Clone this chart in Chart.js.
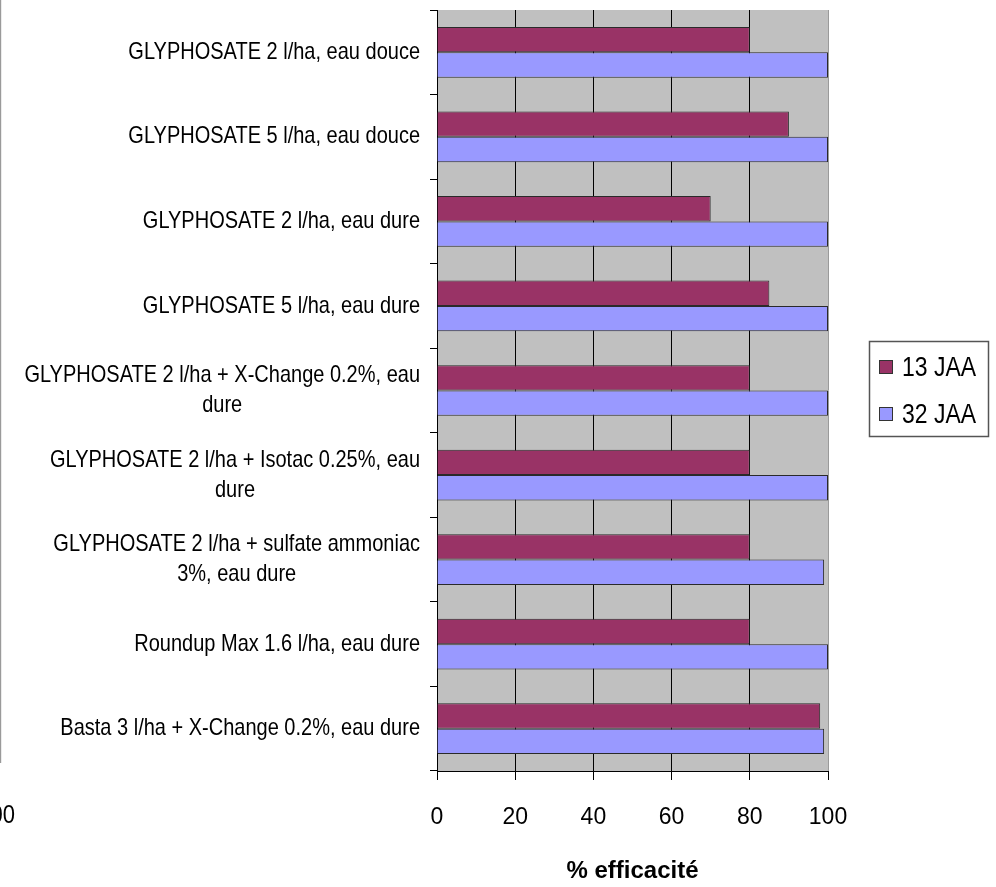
<!DOCTYPE html>
<html>
<head>
<meta charset="utf-8">
<script src="https://cdn.jsdelivr.net/npm/chart.js@4"></script>
<style>
  html, body { margin: 0; padding: 0; background: #fff; }
  #wrap { width: 996px; height: 887px; position: relative; }
</style>
</head>
<body>
<div id="wrap"><canvas id="effChart"></canvas></div>
<script>
// treatments, top to bottom (arrays = wrapped lines)
const categories = [
  ['GLYPHOSATE 2 l/ha, eau douce'],
  ['GLYPHOSATE 5 l/ha, eau douce'],
  ['GLYPHOSATE 2 l/ha, eau dure'],
  ['GLYPHOSATE 5 l/ha, eau dure'],
  ['GLYPHOSATE 2 l/ha + X-Change 0.2%, eau', 'dure'],
  ['GLYPHOSATE 2 l/ha + Isotac 0.25%, eau', 'dure'],
  ['GLYPHOSATE 2 l/ha + sulfate ammoniac', '3%, eau dure'],
  ['Roundup Max 1.6 l/ha, eau dure'],
  ['Basta 3 l/ha + X-Change 0.2%, eau dure']
];
const jaa13 = [80, 90, 70, 85, 80, 80, 80, 80, 98];
const jaa32 = [100, 100, 100, 100, 100, 100, 99, 100, 99];
const xTicks = [0, 20, 40, 60, 80, 100];

const FONT = '"Liberation Sans", Arial, sans-serif';
const STRETCH = 1.2; // text in the original is drawn a bit tall

// grey plot background
const plotBg = {
  id: 'plotBg',
  beforeDraw(chart) {
    const { ctx, chartArea: a } = chart;
    ctx.save();
    ctx.fillStyle = '#c0c0c0';
    ctx.fillRect(a.left, a.top, a.right - a.left, a.bottom - a.top);
    ctx.restore();
  }
};

function tallText(ctx, text, x, y) {
  ctx.save();
  ctx.translate(x, y);
  ctx.scale(1, STRETCH);
  ctx.fillText(text, 0, 0);
  ctx.restore();
}

// category labels: block right-aligned, lines centred inside the block
const catLabels = {
  id: 'catLabels',
  afterDraw(chart) {
    const ctx = chart.ctx;
    const yScale = chart.scales.y;
    const right = chart.chartArea.left - 17;
    ctx.save();
    ctx.font = '20px ' + FONT;
    ctx.fillStyle = '#000';
    ctx.textAlign = 'center';
    ctx.textBaseline = 'middle';
    yScale.getLabels().forEach((lines, i) => {
      const y = yScale.getPixelForValue(i);
      const w = Math.max(...lines.map(l => ctx.measureText(l).width));
      const cx = right - w / 2;
      const step = 30;
      const y0 = y - (lines.length - 1) * step / 2;
      lines.forEach((l, k) => tallText(ctx, l, cx, y0 + k * step));
    });
    ctx.restore();
  }
};

// boxed legend on the right
const legendBox = {
  id: 'legendBox',
  afterDraw(chart) {
    const ctx = chart.ctx;
    ctx.save();
    ctx.strokeStyle = '#555';
    ctx.lineWidth = 1.5;
    ctx.strokeRect(869.5, 341.5, 119, 95);
    ctx.font = '23px ' + FONT;
    ctx.textBaseline = 'middle';
    chart.data.datasets.forEach((ds, i) => {
      const y = 367 + i * 47;
      ctx.fillStyle = ds.backgroundColor;
      ctx.fillRect(879, y - 7, 14, 14);
      ctx.strokeStyle = '#333';
      ctx.lineWidth = 1;
      ctx.strokeRect(879.5, y - 6.5, 13, 13);
      ctx.fillStyle = '#000';
      tallText(ctx, ds.label, 902, y + 1);
    });
    ctx.restore();
  }
};

// cropped leftovers of the neighbouring chart at the left edge
const leftEdge = {
  id: 'leftEdge',
  afterDraw(chart) {
    const ctx = chart.ctx;
    ctx.save();
    ctx.strokeStyle = '#9a9a9a';
    ctx.lineWidth = 1.2;
    ctx.beginPath();
    ctx.moveTo(0.6, 0);
    ctx.lineTo(0.6, 763);
    ctx.stroke();
    ctx.fillStyle = '#000';
    ctx.font = '22px ' + FONT;
    ctx.textAlign = 'right';
    ctx.textBaseline = 'middle';
    tallText(ctx, '100', 15, 816);
    ctx.restore();
  }
};

new Chart(document.getElementById('effChart'), {
  type: 'bar',
  data: {
    labels: categories,
    datasets: [
      {
        label: '13 JAA',
        data: jaa13,
        backgroundColor: '#993366',
        borderColor: '#2a2a2a',
        borderWidth: 1
      },
      {
        label: '32 JAA',
        data: jaa32,
        backgroundColor: '#9999ff',
        borderColor: '#2a2a2a',
        borderWidth: 1
      }
    ]
  },
  options: {
    indexAxis: 'y',
    responsive: true,
    maintainAspectRatio: false,
    animation: false,
    layout: { padding: { top: 10, right: 168, left: 0, bottom: 0 } },
    datasets: {
      bar: { categoryPercentage: 0.6, barPercentage: 1.0 }
    },
    scales: {
      x: {
        min: 0,
        max: 100,
        afterBuildTicks: s => { s.ticks = xTicks.map(v => ({ value: v })); },
        afterFit: s => { s.height = 116; },
        grid: {
          color: ctx => ctx.tick && ctx.tick.value === 100 ? '#9a9a9a' : '#000',
          tickColor: '#000',
          tickLength: 9,
          lineWidth: 1
        },
        border: { color: '#000', width: 1 },
        ticks: {
          color: '#000',
          padding: 24,
          font: { family: FONT, size: 23 }
        },
        title: {
          display: true,
          text: '% efficacité',
          color: '#000',
          padding: { top: 0, bottom: 1 },
          font: { family: FONT, size: 24, weight: 'bold' }
        }
      },
      y: {
        afterFit: s => { s.width = 437; },
        grid: {
          offset: true,
          drawOnChartArea: false,
          tickLength: 7,
          color: '#000'
        },
        border: { color: '#000', width: 1 },
        ticks: { display: false }
      }
    },
    plugins: {
      legend: { display: false },
      tooltip: { enabled: true }
    }
  },
  plugins: [plotBg, catLabels, legendBox, leftEdge]
});
</script>
</body>
</html>
